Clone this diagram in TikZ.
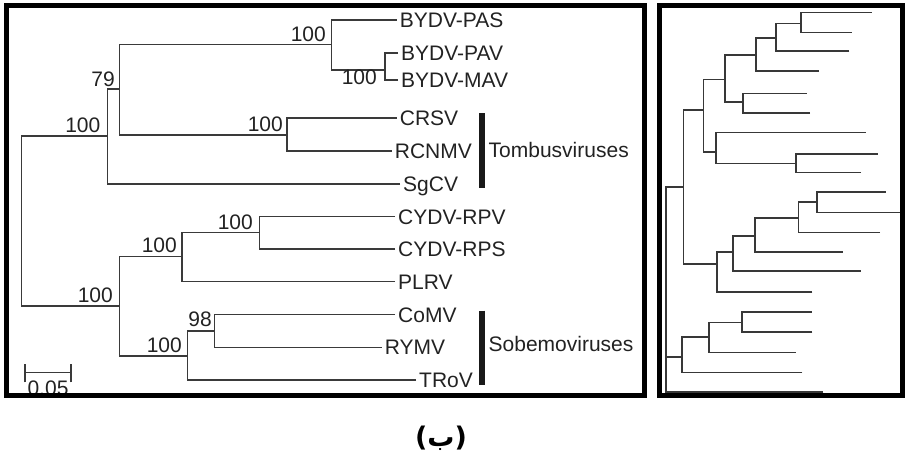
\documentclass[tikz,border=0pt]{standalone}
\usepackage{fontspec}
\setmainfont{Liberation Sans}
\newfontfamily\arabicfont[Script=Arabic]{DejaVu Sans}
\newfontfamily\capfont{DejaVu Sans}
\TeXXeTstate=1
\definecolor{txt}{HTML}{222222}
\definecolor{linec}{HTML}{3A3A3A}
\tikzset{
  leaf/.style={anchor=west, inner xsep=3pt, inner ysep=0pt, text height=15pt, text depth=0pt, font=\fontsize{21}{25}\selectfont, text=txt},
  bs/.style={anchor=south east, inner sep=0pt, text depth=0pt, font=\fontsize{21}{25}\selectfont, text=txt},
  edge/.style={line width=1.25pt, draw=linec},
  redge/.style={line width=1.6pt, draw=black!78},
  frame/.style={line width=5pt, draw=black},
  groupbar/.style={line width=6pt, draw=black!90}
}
\begin{document}
\begin{tikzpicture}[x=1pt,y=-1pt]
\useasboundingbox (0,0) rectangle (910,459);
% ---------- left tree ----------
\coordinate (r) at (21.5,221);
\coordinate (u) at (107.7,136);
\coordinate (l) at (119.3,306);
\coordinate (v) at (119.3,89);
\coordinate (b) at (331.7,44.7);
\coordinate (m) at (385,70);
\coordinate (t) at (287,135);
\coordinate (c) at (182,256.7);
\coordinate (d) at (259.3,232.7);
\coordinate (s) at (187.3,356);
\coordinate (e) at (214.3,331);
\node[leaf] (PAS) at (396.7,20) {BYDV-PAS};
\node[leaf] (PAV) at (398,53) {BYDV-PAV};
\node[leaf] (MAV) at (398,80) {BYDV-MAV};
\node[leaf] (CRSV) at (396.7,118) {CRSV};
\node[leaf] (RCNMV) at (391.7,151) {RCNMV};
\node[leaf] (SgCV) at (400,184) {SgCV};
\node[leaf] (RPV) at (395,216.7) {CYDV-RPV};
\node[leaf] (RPS) at (395,249) {CYDV-RPS};
\node[leaf] (PLRV) at (395,281.7) {PLRV};
\node[leaf] (CoMV) at (395,314.7) {CoMV};
\node[leaf] (RYMV) at (381.7,347.3) {RYMV};
\node[leaf] (TRoV) at (416,380) {TRoV};
\foreach \ch/\pa in {u/r,l/r,v/u,b/v,t/v,m/b,c/l,s/l,d/c,e/s}
  \draw[edge] (\ch) -| (\pa);
\foreach \ch/\pa in {PAS/b,PAV/m,MAV/m,CRSV/t,RCNMV/t,SgCV/u,RPV/d,RPS/d,PLRV/c,CoMV/e,RYMV/e,TRoV/s}
  \draw[edge] (\ch.west) -| (\pa);
% bootstrap values
\node[bs] (bs1) at (100.5,133) {100};
\node[bs] (bs2) at (115,87) {79};
\node[bs] (bs3) at (326,41.7) {100};
\node[bs] (bs4) at (377,85) {100};
\node[bs] (bs5) at (283,132) {100};
\node[bs] (bs6) at (113,303) {100};
\node[bs] (bs7) at (177,253) {100};
\node[bs] (bs8) at (253,230) {100};
\node[bs] (bs9) at (182,353) {100};
\node[bs] (bs10) at (212,327) {98};
% groups
\coordinate (tb1) at (482,113);
\coordinate (tb2) at (482,188);
\draw[groupbar] (tb1) -- (tb2);
\node[leaf, inner xsep=0pt] (tomb) at (488.5,150) {Tombusviruses};
\coordinate (sb1) at (482,310.7);
\coordinate (sb2) at (482,385);
\draw[groupbar] (sb1) -- (sb2);
\node[leaf, inner xsep=0pt] (sobe) at (488.5,344) {Sobemoviruses};
% scale bar
\coordinate (sc1) at (25,372.7);
\coordinate (sc2) at (71,372.7);
\draw[edge] (sc1) -- (sc2);
\draw[edge] ([yshift=-9.7pt]sc1) -- ([yshift=9pt]sc1);
\draw[edge] ([yshift=-9.7pt]sc2) -- ([yshift=9pt]sc2);
\node[anchor=base, inner sep=0pt, font=\fontsize{21}{25}\selectfont, text=txt] (sclab) at (48,395) {0.05};
% left frame
\draw[frame] (6.5,5.5) rectangle (644.5,395.5);
% ---------- right tree ----------
\coordinate (R0) at (666,289);
\coordinate (A) at (683.3,186.7);
\coordinate (B) at (681.7,356.7);
\coordinate (A1) at (703.3,110);
\coordinate (A2) at (716.7,264);
\coordinate (A11) at (725,79.3);
\coordinate (A12) at (716,151.7);
\coordinate (A111) at (756,55);
\coordinate (A112) at (742.7,101.7);
\coordinate (A1111) at (776,37.7);
\coordinate (A11111) at (800.7,23.3);
\coordinate (A121) at (796,163.3);
\coordinate (A21) at (732.7,251.7);
\coordinate (A211) at (755,235.7);
\coordinate (A2111) at (798.3,217.7);
\coordinate (A21111) at (816.7,201.7);
\coordinate (B1) at (709,336.7);
\coordinate (B11) at (741.7,322.3);
\coordinate (L1) at (871.7,12.3);
\coordinate (L2) at (851.7,32.3);
\coordinate (L3) at (849.3,51);
\coordinate (L4) at (819,71);
\coordinate (L5) at (806.7,93.3);
\coordinate (L6) at (810,112.7);
\coordinate (L7) at (865.7,132.3);
\coordinate (L8) at (877.7,154);
\coordinate (L9) at (861,172.3);
\coordinate (L10) at (885.7,191.7);
\coordinate (L11) at (900,212.3);
\coordinate (L12) at (880,232.3);
\coordinate (L13) at (842.7,251.7);
\coordinate (L14) at (860.7,271);
\coordinate (L15) at (812.3,291.7);
\coordinate (L16) at (811.7,311.7);
\coordinate (L17) at (812.3,331.7);
\coordinate (L18) at (795.7,352.3);
\coordinate (L19) at (802.3,372.3);
\coordinate (L20) at (823.3,391.7);
\foreach \ch/\pa in {A/R0,B/R0,L20/R0,A1/A,A2/A,A11/A1,A12/A1,A111/A11,A112/A11,A1111/A111,L4/A111,
  A11111/A1111,L3/A1111,L1/A11111,L2/A11111,L5/A112,L6/A112,L7/A12,A121/A12,L8/A121,L9/A121,
  A21/A2,L15/A2,A211/A21,L14/A21,A2111/A211,L13/A211,A21111/A2111,L12/A2111,L10/A21111,L11/A21111,
  B1/B,L19/B,B11/B1,L18/B1,L16/B11,L17/B11}
  \draw[redge] (\ch) -| (\pa);
% right frame
\draw[frame] (659,5.5) rectangle (902.5,395.5);
% caption
\node[inner sep=0pt, font=\fontsize{27}{32}\selectfont\bfseries] (cap) at (441,438) {\capfont(\arabicfont\beginR ب\endR\capfont)};
\end{tikzpicture}
\end{document}
